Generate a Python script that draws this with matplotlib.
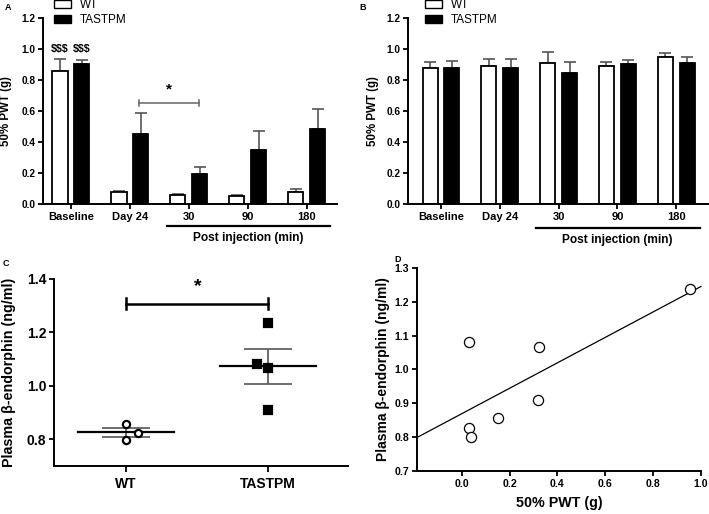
import numpy as np
import matplotlib
matplotlib.use("Agg")
import matplotlib.pyplot as plt
from matplotlib.patches import Patch

plt.rcParams['font.family'] = ['Liberation Sans', 'DejaVu Sans']
plt.rcParams['font.weight'] = 'bold'
plt.rcParams['axes.labelweight'] = 'bold'
plt.rcParams['axes.linewidth'] = 1.4

# Paneles A y B: 50% PWT por tiempo
groups = ['Baseline', 'Day 24', '30', '90', '180']
a_wt = [0.858, 0.075, 0.056, 0.054, 0.075]
a_wt_err = [0.078, 0.011, 0.008, 0.006, 0.019]
a_tg = [0.899, 0.453, 0.191, 0.345, 0.483]
a_tg_err = [0.028, 0.135, 0.045, 0.123, 0.126]
b_wt = [0.879, 0.890, 0.909, 0.890, 0.948]
b_wt_err = [0.037, 0.048, 0.069, 0.026, 0.024]
b_tg = [0.879, 0.879, 0.843, 0.903, 0.909]
b_tg_err = [0.046, 0.059, 0.073, 0.026, 0.041]

# Panel C: beta-endorfina plasmatica
c_groups = ['WT', 'TASTPM']
c_wt = [0.856, 0.825, 0.796]
c_wt_dx = [0.0, 0.082, 0.0]
c_tg = [1.235, 1.080, 1.065, 0.910]
c_tg_dx = [0.0, -0.077, 0.0, 0.0]

# Panel D: correlacion
d_pwt = [0.954, 0.032, 0.322, 0.320, 0.152, 0.029, 0.039]
d_bend = [1.238, 1.080, 1.066, 0.911, 0.858, 0.826, 0.800]

fig = plt.figure(figsize=(7.09, 5.14), dpi=100)


def style(ax):
    ax.spines['top'].set_visible(False)
    ax.spines['right'].set_visible(False)
    ax.tick_params(direction='out', length=3.5, width=1.3, pad=2)


def bar_panel(ax, wt, wt_err, tg, tg_err, ylab_x, post_y, xlim):
    x = np.arange(len(groups))
    off, w = 0.186, 0.255
    for xs, vals, errs, fc in [(x - off, wt, wt_err, 'white'), (x + off, tg, tg_err, 'black')]:
        ax.errorbar(xs, vals, yerr=[np.zeros(len(vals)), errs], fmt='none',
                    ecolor='#555555', elinewidth=1.2, capsize=4, capthick=1.2, zorder=0.5)
        ax.bar(xs, vals, w, color=fc, edgecolor='black', linewidth=1.3, zorder=1)
    ax.set_xlim(*xlim)
    ax.set_ylim(0, 1.2)
    ax.set_yticks(np.arange(0, 1.21, 0.2))
    ax.set_yticklabels(['%.1f' % v for v in np.arange(0, 1.21, 0.2)], fontsize=7.3)
    ax.set_xticks(x)
    ax.set_xticklabels(groups, fontsize=8)
    ax.set_ylabel('50% PWT (g)', fontsize=8.3, va='center')
    ax.yaxis.set_label_coords(ylab_x, 0.5)
    style(ax)
    tr = ax.get_xaxis_transform()
    ax.plot([1.62, 4.4], [post_y, post_y], color='black', lw=1.6, transform=tr, clip_on=False)
    ax.text(3.0, post_y - 0.065, 'Post injection (min)', ha='center', va='center',
            fontsize=8.6, transform=tr)


def add_legend(ax, x0):
    ax.legend(handles=[Patch(facecolor='white', edgecolor='black', label='WT'),
                       Patch(facecolor='black', edgecolor='black', label='TASTPM')],
              loc='center left', bbox_to_anchor=(x0 / 709, 1 - 12.5 / 514),
              bbox_transform=fig.transFigure, frameon=False, borderpad=0,
              borderaxespad=0, handlelength=1.45, handleheight=0.6,
              handletextpad=0.75, labelspacing=0.25,
              prop={'size': 8.5, 'weight': 'normal'})


# A
axA = fig.add_axes([0.0606, 0.6031, 0.4147, 0.3625])
bar_panel(axA, a_wt, a_wt_err, a_tg, a_tg_err, -0.126, -0.117, (-0.475, 4.51))
for xi in (-0.186, 0.186):
    axA.text(xi, 1.0, '$$$', ha='center', va='center', fontsize=7.6)
axA.plot([1.15, 2.17], [0.652, 0.652], color='#666666', lw=1.1)
for xi in (1.15, 2.17):
    axA.plot([xi, xi], [0.632, 0.672], color='#666666', lw=1.1)
axA.text(1.66, 0.735, '*', ha='center', va='center', fontsize=11)
add_legend(axA, 54)

# B
axB = fig.add_axes([0.5755, 0.6031, 0.4231, 0.3619])
bar_panel(axB, b_wt, b_wt_err, b_tg, b_tg_err, -0.117, -0.127, (-0.56, 4.54))
add_legend(axB, 425)

# C
axC = fig.add_axes([0.0762, 0.0934, 0.4147, 0.3638])
for i, (vals, dx, mk, fc) in enumerate([(c_wt, c_wt_dx, 'o', 'white'),
                                        (c_tg, c_tg_dx, 's', 'black')]):
    vals = np.array(vals)
    axC.plot(i + np.array(dx), vals, mk, ms=5.2, mfc=fc, mec='black', mew=1.6,
             zorder=3, linestyle='none')
    m = vals.mean()
    sem = vals.std(ddof=1) / np.sqrt(len(vals))
    axC.plot([i - 0.34, i + 0.34], [m, m], color='black', lw=1.6, zorder=2)
    axC.errorbar(i, m, yerr=sem, color='#555555', lw=1.2, capsize=17, capthick=1.2,
                 zorder=1)
axC.plot([0, 1], [1.307, 1.307], color='black', lw=1.8)
for xi in (0, 1):
    axC.plot([xi, xi], [1.287, 1.327], color='black', lw=1.8)
axC.text(0.505, 1.37, '*', ha='center', va='center', fontsize=14)
axC.set_xlim(-0.507, 1.563)
axC.set_ylim(0.7, 1.4)
axC.set_yticks([0.8, 1.0, 1.2, 1.4])
axC.set_yticklabels(['0.8', '1.0', '1.2', '1.4'], fontsize=10)
axC.set_xticks([0, 1])
axC.set_xticklabels(c_groups, fontsize=10)
style(axC)
axC.tick_params(axis='x', length=4.5, pad=3.5)
axC.set_ylabel('Plasma β-endorphin (ng/ml)', fontsize=10.3, va='center')
axC.yaxis.set_label_coords(-0.153, 0.5)

# D
axD = fig.add_axes([0.5877, 0.0837, 0.401, 0.395])
axD.plot(d_pwt, d_bend, 'o', ms=7.3, mfc='white', mec='black', mew=0.9, zorder=3)
k, b0 = np.polyfit(d_pwt, d_bend, 1)
fx = np.array([-0.188, 1.0])
axD.plot(fx, k * fx + b0, color='black', lw=0.9, clip_on=False)
axD.set_xlim(-0.188, 1.0)
axD.set_ylim(0.7, 1.3)
axD.set_xticks(np.arange(0, 1.01, 0.2))
axD.set_xticklabels(['%.1f' % v for v in np.arange(0, 1.01, 0.2)], fontsize=7.6)
axD.set_yticks(np.arange(0.7, 1.31, 0.1))
axD.set_yticklabels(['%.1f' % v for v in np.arange(0.7, 1.31, 0.1)], fontsize=7.6)
style(axD)
axD.set_xlabel('50% PWT (g)', fontsize=10.3, va='center')
axD.xaxis.set_label_coords(0.5, -0.158)
axD.set_ylabel('Plasma β-endorphin (ng/ml)', fontsize=10, va='center')
axD.yaxis.set_label_coords(-0.1185, 0.5)

# Letras de panel
for lab, px, py in [('A', 8, 8), ('B', 363, 8), ('C', 6, 263), ('D', 398, 259)]:
    fig.text(px / 709, 1 - py / 514, lab, fontsize=6.5, ha='center', va='center')

plt.savefig('out.png', dpi=100)
